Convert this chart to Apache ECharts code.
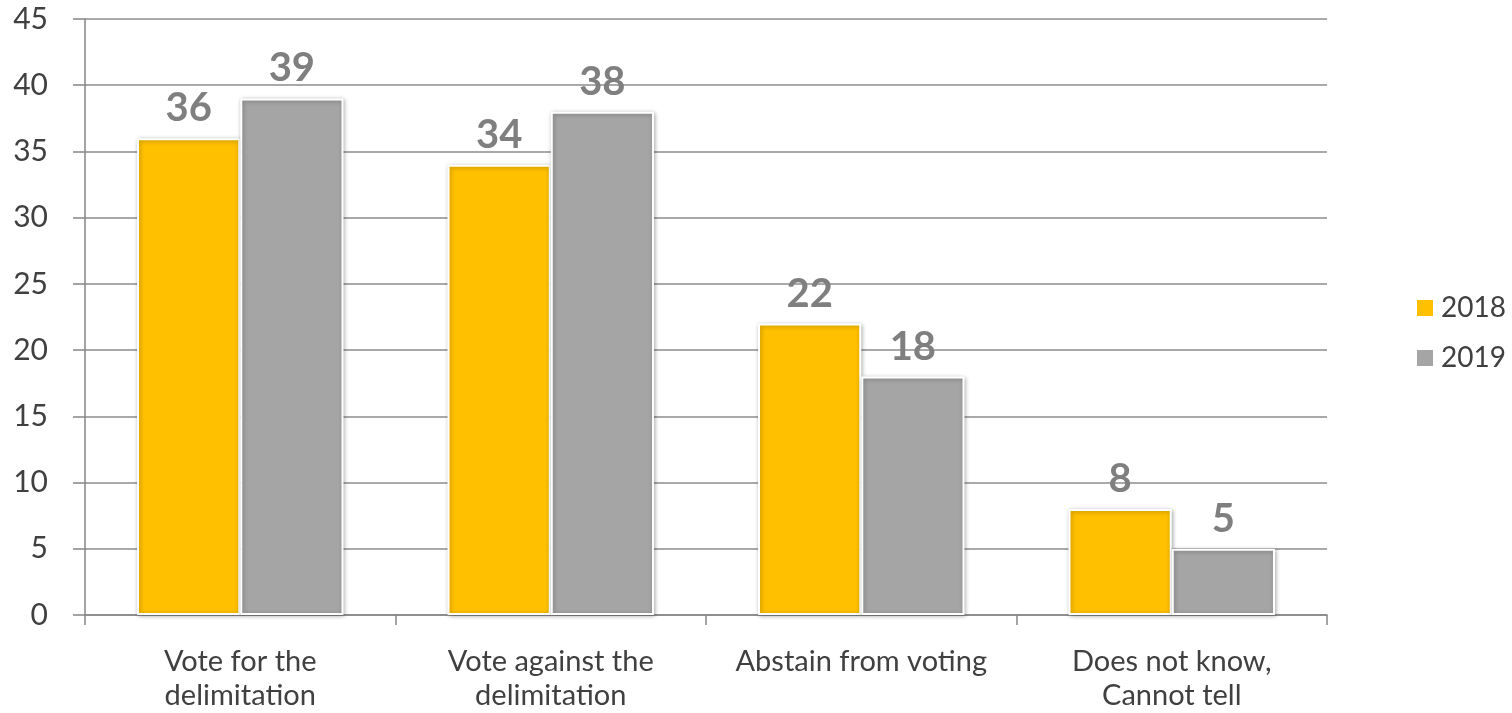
<!DOCTYPE html>
<html>
<head>
<meta charset="utf-8">
<script src="https://cdn.jsdelivr.net/npm/echarts@6/dist/echarts.min.js"></script>
<style>
html,body{margin:0;padding:0;background:#fff;}
#chart{width:1512px;height:713px;}
</style>
</head>
<body>
<div id="chart"></div>
<script>
const categories = ['Vote for the\ndelimitation', 'Vote against the\ndelimitation', 'Abstain from voting', 'Does not know,\nCannot tell'];
const seriesNames = ['2018', '2019'];
const values2018 = [36, 34, 22, 8];
const values2019 = [39, 38, 18, 5];
const yTicks = [0, 5, 10, 15, 20, 25, 30, 35, 40, 45];

const colors = ['#FFC000', '#A5A5A5'];
const chart = echarts.init(document.getElementById('chart'), null, {renderer: 'canvas'});

function makeSeries(name, data, color) {
  return {
    name: name,
    type: 'bar',
    data: data,
    barGap: '0%',
    barCategoryGap: '33.5%',
    itemStyle: {
      color: color,
      borderColor: '#ffffff',
      borderWidth: 2,
      shadowBlur: 4,
      shadowColor: 'rgba(0,0,0,0.3)',
      shadowOffsetX: 1,
      shadowOffsetY: 1
    },
    label: {
      show: true,
      position: 'top',
      distance: 10,
      color: '#7F7F7F',
      fontFamily: 'Lato, sans-serif',
      fontWeight: 'bold',
      fontSize: 40
    }
  };
}

chart.setOption({
  animation: false,
  backgroundColor: '#ffffff',
  grid: {left: 85, right: 185, top: 19, bottom: 94, containLabel: false},
  legend: {
    orient: 'vertical',
    left: 1410,
    top: 289,
    itemWidth: 18,
    itemHeight: 18,
    itemGap: 22,
    icon: 'rect',
    data: seriesNames,
    textStyle: {fontFamily: 'Lato, sans-serif', fontSize: 28, color: '#404040', padding: [0, 0, 0, 2]}
  },
  xAxis: {
    type: 'category',
    data: categories,
    axisLine: {lineStyle: {color: '#868686', width: 1.5}},
    axisTick: {show: true, length: 10, lineStyle: {color: '#868686', width: 1.5}},
    axisLabel: {
      interval: 0,
      margin: 30,
      fontFamily: 'Lato, sans-serif',
      fontSize: 29,
      lineHeight: 34,
      color: '#404040'
    }
  },
  yAxis: {
    type: 'value',
    min: yTicks[0],
    max: yTicks[yTicks.length - 1],
    interval: 5,
    axisLine: {show: true, lineStyle: {color: '#868686', width: 1.5}},
    axisTick: {show: true, length: 12, lineStyle: {color: '#868686', width: 1.5}},
    splitLine: {lineStyle: {color: '#8C8C8C', width: 1.5}},
    axisLabel: {
      margin: 37,
      fontFamily: 'Lato, sans-serif',
      fontSize: 30,
      color: '#404040'
    }
  },
  series: [
    makeSeries(seriesNames[0], values2018, colors[0]),
    makeSeries(seriesNames[1], values2019, colors[1])
  ]
});
</script>
</body>
</html>
